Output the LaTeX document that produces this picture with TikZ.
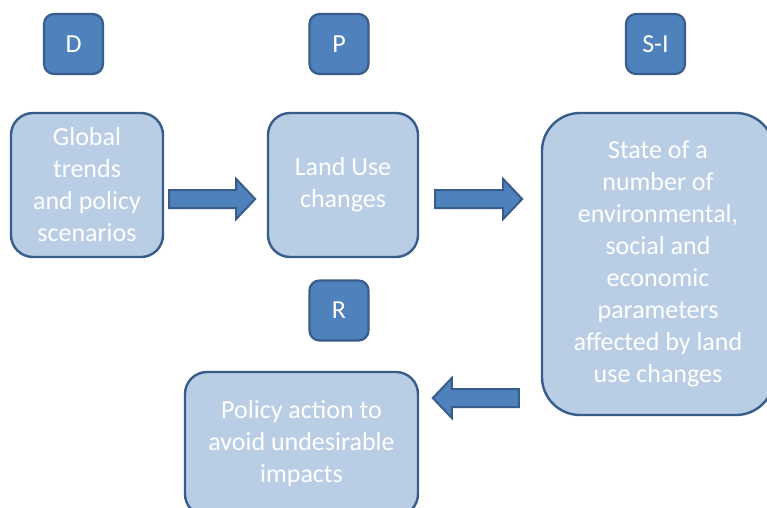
\documentclass[tikz,border=0pt]{standalone}
\usepackage{fontspec}
\setmainfont{Carlito}
\definecolor{darkfill}{HTML}{4F81BD}
\definecolor{edgeblue}{HTML}{385D8A}
\definecolor{lightfill}{HTML}{B9CDE5}
\tikzset{
  tag/.style={draw=edgeblue, fill=darkfill, line width=2.2pt, rounded corners=10pt,
    minimum width=59pt, minimum height=60pt, inner sep=0pt, text=white,
    font=\fontsize{26}{32}\selectfont},
  stagebox/.style={draw=edgeblue, fill=lightfill, line width=2.4pt, rounded corners=22pt,
    inner sep=0pt, text=white, align=center, font=\fontsize{26}{32}\selectfont},
  blockarrow/.style={draw=edgeblue, fill=darkfill, line width=2pt, line join=miter}
}
\begin{document}
\begin{tikzpicture}[x=1pt,y=-1pt]
\useasboundingbox (0,0) rectangle (767,507);
\clip (0,0) rectangle (767,507);
\fill[white] (0,0) rectangle (767,507);
% tags
\node[tag] (D) at (73.5,44) {D};
\node[tag] (P) at (339,44) {P};
\node[tag] (SI) at (655.5,44) {S-I};
\node[tag] (R) at (339,310.5) {R};
% stage boxes
\node[stagebox, minimum width=152pt, minimum height=144pt] (g) at (87,185)
  {Global\\trends\\and policy\\scenarios};
\node[stagebox, minimum width=150pt, minimum height=144pt] (lu) at (343,185)
  {Land Use\\changes};
\node[stagebox, rounded corners=38pt, minimum width=232pt, minimum height=302pt] (st) at (658,264)
  {State of a\\number of\\environmental,\\social and\\economic\\parameters\\affected by land\\use changes};
\node[stagebox, minimum width=233pt, minimum height=144pt] (pol) at (301.5,444)
  {Policy action to\\avoid undesirable\\impacts};
% block arrows
\draw[blockarrow] ([xshift=5pt,yshift=-5pt]g.east) -- ++(67,0) -- ++(0,-11) -- ++(19,20)
  -- ++(-19,20) -- ++(0,-11) -- ++(-67,0) -- cycle;
\draw[blockarrow] ([xshift=16pt,yshift=-5pt]lu.east) -- ++(68,0) -- ++(0,-11) -- ++(19,20)
  -- ++(-19,20) -- ++(0,-11) -- ++(-68,0) -- cycle;
\draw[blockarrow] ([xshift=-22pt]st.west |- 0,389) -- ++(-67,0) -- ++(0,-11) -- ++(-19,20)
  -- ++(19,20) -- ++(0,-11) -- ++(67,0) -- cycle;
\end{tikzpicture}
\end{document}
